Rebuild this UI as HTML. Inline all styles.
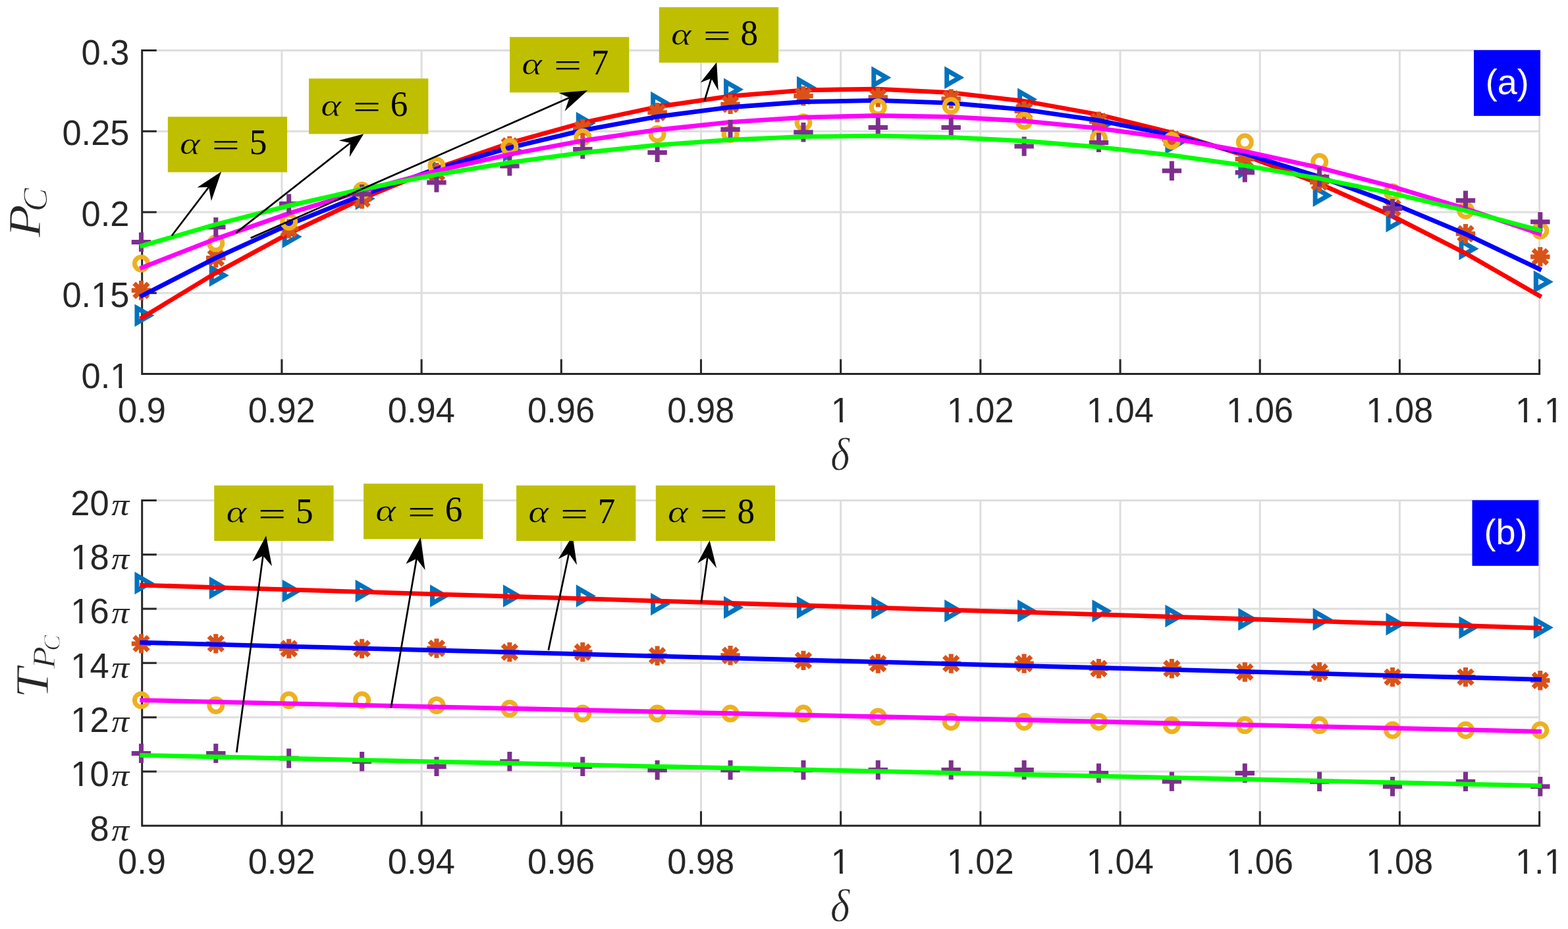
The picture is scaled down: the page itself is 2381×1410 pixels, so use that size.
<!DOCTYPE html>
<html lang="en"><head><meta charset="utf-8"><title>Figure</title>
<style>html,body{margin:0;padding:0;background:#fff}svg{display:block}.t{font-family:"Liberation Sans",Arial,Helvetica,sans-serif;fill:#262626}.mi{font-family:"Liberation Serif","DejaVu Serif",serif;font-style:italic}.mr{font-family:"Liberation Serif","DejaVu Serif",serif}</style></head><body>
<svg width="2381" height="1410" viewBox="0 0 2381 1410">
<rect width="2381" height="1410" fill="#fff"/>
<path d="M427.89 74.9V567.4M640.08 74.9V567.4M852.27 74.9V567.4M1064.46 74.9V567.4M1276.65 74.9V567.4M1488.84 74.9V567.4M1701.03 74.9V567.4M1913.22 74.9V567.4M2125.41 74.9V567.4M2337.6 74.9V567.4M215.7 76.4H2339.1M215.7 199.15H2339.1M215.7 321.9H2339.1M215.7 444.65H2339.1" stroke="#dedede" stroke-width="3" fill="none"/>
<path d="M215.7 74.9V567.4H2339.1M427.89 567.4v-22.1M640.08 567.4v-22.1M852.27 567.4v-22.1M1064.46 567.4v-22.1M1276.65 567.4v-22.1M1488.84 567.4v-22.1M1701.03 567.4v-22.1M1913.22 567.4v-22.1M2125.41 567.4v-22.1M2337.6 567.4v-22.1M215.7 76.4h22.1M215.7 199.15h22.1M215.7 321.9h22.1M215.7 444.65h22.1" stroke="#262626" stroke-width="3" fill="none" stroke-linejoin="miter"/>
<g fill="none" stroke="#0072bd" stroke-width="7" stroke-linejoin="miter"><polygon points="207.95,467.6 227.45,478.8 207.95,490"/><polygon points="321.28,406.9 340.78,418.1 321.28,429.3"/><polygon points="432.2,348.1 451.7,359.3 432.2,370.5"/><polygon points="543.12,290.2 562.62,301.4 543.12,312.6"/><polygon points="656.45,247.8 675.95,259 656.45,270.2"/><polygon points="767.37,217.3 786.87,228.5 767.37,239.7"/><polygon points="878.29,175.8 897.79,187 878.29,198.2"/><polygon points="991.62,144.8 1011.12,156 991.62,167.2"/><polygon points="1102.54,124.5 1122.04,135.7 1102.54,146.9"/><polygon points="1213.46,121.6 1232.96,132.8 1213.46,144"/><polygon points="1326.79,106.6 1346.29,117.8 1326.79,129"/><polygon points="1437.71,106.6 1457.21,117.8 1437.71,129"/><polygon points="1548.63,139.5 1568.13,150.7 1548.63,161.9"/><polygon points="1661.96,178 1681.46,189.2 1661.96,200.4"/><polygon points="1772.88,205.9 1792.38,217.1 1772.88,228.3"/><polygon points="1883.8,243 1903.3,254.2 1883.8,265.4"/><polygon points="1997.13,285.6 2016.63,296.8 1997.13,308"/><polygon points="2108.05,324.4 2127.55,335.6 2108.05,346.8"/><polygon points="2218.97,366.2 2238.47,377.4 2218.97,388.6"/><polygon points="2332.31,416.6 2351.81,427.8 2332.31,439"/></g>
<polyline points="215.7,482.1 327.38,414.43 439.06,354.09 550.74,301.08 662.42,255.38 774.09,217.02 885.77,185.97 997.45,162.25 1109.13,145.86 1220.81,136.78 1332.49,135.04 1444.17,140.61 1555.85,153.52 1667.53,173.74 1779.21,201.29 1890.88,236.16 2002.56,278.36 2114.24,327.88 2225.92,384.73 2337.6,448.9" fill="none" stroke="#ff0000" stroke-width="6.8" stroke-linejoin="miter" stroke-linecap="square"/>
<path d="M199.75 440.7h29.4M214.45 426v29.4M203.7 429.95l21.5 21.5M203.7 451.45l21.5 -21.5M313.08 391.5h29.4M327.78 376.8v29.4M317.03 380.75l21.5 21.5M317.03 402.25l21.5 -21.5M424 347.1h29.4M438.7 332.4v29.4M427.95 336.35l21.5 21.5M427.95 357.85l21.5 -21.5M534.92 302.1h29.4M549.62 287.4v29.4M538.87 291.35l21.5 21.5M538.87 312.85l21.5 -21.5M648.25 261.8h29.4M662.95 247.1v29.4M652.2 251.05l21.5 21.5M652.2 272.55l21.5 -21.5M759.17 221.5h29.4M773.87 206.8v29.4M763.12 210.75l21.5 21.5M763.12 232.25l21.5 -21.5M870.09 195.7h29.4M884.79 181v29.4M874.04 184.95l21.5 21.5M874.04 206.45l21.5 -21.5M983.42 170.7h29.4M998.12 156v29.4M987.37 159.95l21.5 21.5M987.37 181.45l21.5 -21.5M1094.34 158.2h29.4M1109.04 143.5v29.4M1098.29 147.45l21.5 21.5M1098.29 168.95l21.5 -21.5M1205.26 145.7h29.4M1219.96 131v29.4M1209.21 134.95l21.5 21.5M1209.21 156.45l21.5 -21.5M1318.59 147.8h29.4M1333.29 133.1v29.4M1322.55 137.05l21.5 21.5M1322.55 158.55l21.5 -21.5M1429.51 150h29.4M1444.21 135.3v29.4M1433.47 139.25l21.5 21.5M1433.47 160.75l21.5 -21.5M1540.43 168.5h29.4M1555.13 153.8v29.4M1544.38 157.75l21.5 21.5M1544.38 179.25l21.5 -21.5M1653.76 184.2h29.4M1668.46 169.5v29.4M1657.72 173.45l21.5 21.5M1657.72 194.95l21.5 -21.5M1764.68 211.4h29.4M1779.38 196.7v29.4M1768.64 200.65l21.5 21.5M1768.64 222.15l21.5 -21.5M1875.6 241.4h29.4M1890.3 226.7v29.4M1879.56 230.65l21.5 21.5M1879.56 252.15l21.5 -21.5M1988.93 276.4h29.4M2003.63 261.7v29.4M1992.89 265.65l21.5 21.5M1992.89 287.15l21.5 -21.5M2099.85 315.7h29.4M2114.55 301v29.4M2103.81 304.95l21.5 21.5M2103.81 326.45l21.5 -21.5M2210.77 354.7h29.4M2225.47 340v29.4M2214.73 343.95l21.5 21.5M2214.73 365.45l21.5 -21.5M2324.11 389.8h29.4M2338.81 375.1v29.4M2328.06 379.05l21.5 21.5M2328.06 400.55l21.5 -21.5" fill="none" stroke="#d95319" stroke-width="7"/>
<polyline points="215.7,448.77 327.38,391.62 439.06,340.58 550.74,295.66 662.42,256.85 774.09,224.15 885.77,197.57 997.45,177.1 1109.13,162.75 1220.81,154.51 1332.49,152.38 1444.17,156.37 1555.85,166.47 1667.53,182.69 1779.21,205.02 1890.88,233.46 2002.56,268.02 2114.24,308.69 2225.92,355.48 2337.6,408.38" fill="none" stroke="#0000ff" stroke-width="6.8" stroke-linejoin="miter" stroke-linecap="square"/>
<g fill="none" stroke="#edb120" stroke-width="7" stroke-linejoin="miter"><circle cx="214.45" cy="400" r="10"/><circle cx="327.78" cy="369.3" r="10"/><circle cx="438.7" cy="336.4" r="10"/><circle cx="549.62" cy="289.2" r="10"/><circle cx="662.95" cy="251.4" r="10"/><circle cx="773.87" cy="223" r="10"/><circle cx="884.79" cy="208.3" r="10"/><circle cx="998.12" cy="203.5" r="10"/><circle cx="1109.04" cy="203.5" r="10"/><circle cx="1219.96" cy="185.7" r="10"/><circle cx="1333.29" cy="162.8" r="10"/><circle cx="1444.21" cy="160.7" r="10"/><circle cx="1555.13" cy="183.5" r="10"/><circle cx="1668.46" cy="210" r="10"/><circle cx="1779.38" cy="213.5" r="10"/><circle cx="1890.3" cy="215.8" r="10"/><circle cx="2003.63" cy="245.8" r="10"/><circle cx="2114.55" cy="291.7" r="10"/><circle cx="2225.47" cy="319.3" r="10"/><circle cx="2338.81" cy="350" r="10"/></g>
<polyline points="215.7,406.08 327.38,362.67 439.06,323.78 550.74,289.42 662.42,259.58 774.09,234.26 885.77,213.46 997.45,197.19 1109.13,185.44 1220.81,178.21 1332.49,175.51 1444.17,177.33 1555.85,183.67 1667.53,194.54 1779.21,209.92 1890.88,229.84 2002.56,254.27 2114.24,283.23 2225.92,316.71 2337.6,354.71" fill="none" stroke="#ff00ff" stroke-width="6.8" stroke-linejoin="miter" stroke-linecap="square"/>
<path d="M199.75 367.4h29.4M214.45 352.7v29.4M313.08 344.7h29.4M327.78 330v29.4M424 309.3h29.4M438.7 294.6v29.4M534.92 294.7h29.4M549.62 280v29.4M648.25 277.1h29.4M662.95 262.4v29.4M759.17 252h29.4M773.87 237.3v29.4M870.09 226.4h29.4M884.79 211.7v29.4M983.42 231.4h29.4M998.12 216.7v29.4M1094.34 196.4h29.4M1109.04 181.7v29.4M1205.26 200.7h29.4M1219.96 186v29.4M1318.59 193.5h29.4M1333.29 178.8v29.4M1429.51 193.5h29.4M1444.21 178.8v29.4M1540.43 222.1h29.4M1555.13 207.4v29.4M1653.76 216.4h29.4M1668.46 201.7v29.4M1764.68 259.2h29.4M1779.38 244.5v29.4M1875.6 261.7h29.4M1890.3 247v29.4M1988.93 268.5h29.4M2003.63 253.8v29.4M2099.85 316.6h29.4M2114.55 301.9v29.4M2210.77 304.3h29.4M2225.47 289.6v29.4M2324.11 336.8h29.4M2338.81 322.1v29.4" fill="none" stroke="#7e2f8e" stroke-width="7"/>
<polyline points="215.7,372.93 327.38,340.83 439.06,312.16 550.74,286.91 662.42,265.1 774.09,246.71 885.77,231.75 997.45,220.22 1109.13,212.12 1220.81,207.45 1332.49,206.21 1444.17,208.4 1555.85,214.01 1667.53,223.06 1779.21,235.53 1890.88,251.44 2002.56,270.77 2114.24,293.53 2225.92,319.72 2337.6,349.34" fill="none" stroke="#00ff00" stroke-width="6.8" stroke-linejoin="miter" stroke-linecap="square"/>
<text class="t" transform="matrix(0.98 0 0 1 123.62 97.6)" font-size="53.5">0.3</text>
<text class="t" transform="matrix(0.98 0 0 1 94.47 220.35)" font-size="53.5">0.25</text>
<text class="t" transform="matrix(0.98 0 0 1 123.62 343.1)" font-size="53.5">0.2</text>
<text class="t" transform="matrix(0.98 0 0 1 94.47 465.85)" font-size="53.5">0.15</text><path d="M141.34 461.46h9.96v5.35h-9.96zM156.13 461.46h9.44v5.35h-9.44z" fill="#fff"/>
<text class="t" transform="matrix(0.98 0 0 1 123.62 588.6)" font-size="53.5">0.1</text><path d="M170.49 584.21h9.96v5.35h-9.96zM185.28 584.21h9.44v5.35h-9.44z" fill="#fff"/>
<text class="t" transform="matrix(0.98 0 0 1 179.06 640.6)" font-size="53.5">0.9</text>
<text class="t" transform="matrix(0.98 0 0 1 376.68 640.6)" font-size="53.5">0.92</text>
<text class="t" transform="matrix(0.98 0 0 1 588.87 640.6)" font-size="53.5">0.94</text>
<text class="t" transform="matrix(0.98 0 0 1 801.06 640.6)" font-size="53.5">0.96</text>
<text class="t" transform="matrix(0.98 0 0 1 1013.25 640.6)" font-size="53.5">0.98</text>
<text class="t" transform="matrix(0.98 0 0 1 1261.87 640.6)" font-size="53.5">1</text><path d="M1265.02 636.21h9.96v5.35h-9.96zM1279.81 636.21h9.44v5.35h-9.44z" fill="#fff"/>
<text class="t" transform="matrix(0.98 0 0 1 1437.63 640.6)" font-size="53.5">1.02</text><path d="M1440.77 636.21h9.96v5.35h-9.96zM1455.56 636.21h9.44v5.35h-9.44z" fill="#fff"/>
<text class="t" transform="matrix(0.98 0 0 1 1649.82 640.6)" font-size="53.5">1.04</text><path d="M1652.96 636.21h9.96v5.35h-9.96zM1667.75 636.21h9.44v5.35h-9.44z" fill="#fff"/>
<text class="t" transform="matrix(0.98 0 0 1 1862.01 640.6)" font-size="53.5">1.06</text><path d="M1865.15 636.21h9.96v5.35h-9.96zM1879.94 636.21h9.44v5.35h-9.44z" fill="#fff"/>
<text class="t" transform="matrix(0.98 0 0 1 2074.2 640.6)" font-size="53.5">1.08</text><path d="M2077.34 636.21h9.96v5.35h-9.96zM2092.13 636.21h9.44v5.35h-9.44z" fill="#fff"/>
<text class="t" transform="matrix(0.98 0 0 1 2300.96 640.6)" font-size="53.5">1.1</text><path d="M2304.11 636.21h9.96v5.35h-9.96zM2318.89 636.21h9.44v5.35h-9.44z" fill="#fff"/><path d="M2347.83 636.21h9.96v5.35h-9.96zM2362.62 636.21h9.44v5.35h-9.44z" fill="#fff"/>
<text class="mi" transform="matrix(0.6202 0 0 0.7035 1261.24 713.1)" font-size="100" fill="#262626" stroke="#fff" stroke-width="0.8" vector-effect="non-scaling-stroke" stroke-linejoin="round">δ</text>
<text class="mi" transform="matrix(0 -0.8203 0.7053 0 60.9 360.49)" font-size="100" fill="#262626" stroke="#fff" stroke-width="1" vector-effect="non-scaling-stroke" stroke-linejoin="round">P</text>
<text class="mi" transform="matrix(0 -0.5387 0.5224 0 71.48 321.26)" font-size="100" fill="#262626" stroke="#fff" stroke-width="1" vector-effect="non-scaling-stroke" stroke-linejoin="round">C</text>
<path d="M427.89 757.9V1253.3M640.08 757.9V1253.3M852.27 757.9V1253.3M1064.46 757.9V1253.3M1276.65 757.9V1253.3M1488.84 757.9V1253.3M1701.03 757.9V1253.3M1913.22 757.9V1253.3M2125.41 757.9V1253.3M2337.6 757.9V1253.3M215.7 759.4H2339.1M215.7 841.72H2339.1M215.7 924.03H2339.1M215.7 1006.35H2339.1M215.7 1088.67H2339.1M215.7 1170.98H2339.1" stroke="#dedede" stroke-width="3" fill="none"/>
<path d="M215.7 757.9V1253.3H2339.1M427.89 1253.3v-22.1M640.08 1253.3v-22.1M852.27 1253.3v-22.1M1064.46 1253.3v-22.1M1276.65 1253.3v-22.1M1488.84 1253.3v-22.1M1701.03 1253.3v-22.1M1913.22 1253.3v-22.1M2125.41 1253.3v-22.1M2337.6 1253.3v-22.1M215.7 759.4h22.1M215.7 841.72h22.1M215.7 924.03h22.1M215.7 1006.35h22.1M215.7 1088.67h22.1M215.7 1170.98h22.1" stroke="#262626" stroke-width="3" fill="none" stroke-linejoin="miter"/>
<g fill="none" stroke="#0072bd" stroke-width="7" stroke-linejoin="miter"><polygon points="207.95,873.8 227.45,885 207.95,896.2"/><polygon points="321.28,881 340.78,892.2 321.28,903.4"/><polygon points="432.2,885.8 451.7,897 432.2,908.2"/><polygon points="543.12,885.8 562.62,897 543.12,908.2"/><polygon points="656.45,893.4 675.95,904.6 656.45,915.8"/><polygon points="767.37,893.4 786.87,904.6 767.37,915.8"/><polygon points="878.29,893.4 897.79,904.6 878.29,915.8"/><polygon points="991.62,905.8 1011.12,917 991.62,928.2"/><polygon points="1102.54,910.8 1122.04,922 1102.54,933.2"/><polygon points="1213.46,910.8 1232.96,922 1213.46,933.2"/><polygon points="1326.79,911.3 1346.29,922.5 1326.79,933.7"/><polygon points="1437.71,916 1457.21,927.2 1437.71,938.4"/><polygon points="1548.63,916 1568.13,927.2 1548.63,938.4"/><polygon points="1661.96,916 1681.46,927.2 1661.96,938.4"/><polygon points="1772.88,923.7 1792.38,934.9 1772.88,946.1"/><polygon points="1883.8,928.9 1903.3,940.1 1883.8,951.3"/><polygon points="1997.13,928.9 2016.63,940.1 1997.13,951.3"/><polygon points="2108.05,936.1 2127.55,947.3 2108.05,958.5"/><polygon points="2218.97,941.3 2238.47,952.5 2218.97,963.7"/><polygon points="2332.31,941.3 2351.81,952.5 2332.31,963.7"/></g>
<polyline points="215.7,888.1 327.38,891.53 439.06,894.95 550.74,898.38 662.42,901.81 774.09,905.23 885.77,908.66 997.45,912.08 1109.13,915.51 1220.81,918.94 1332.49,922.36 1444.17,925.79 1555.85,929.22 1667.53,932.64 1779.21,936.07 1890.88,939.49 2002.56,942.92 2114.24,946.35 2225.92,949.77 2337.6,953.2" fill="none" stroke="#ff0000" stroke-width="6.8" stroke-linejoin="miter" stroke-linecap="square"/>
<path d="M199.75 976.9h29.4M214.45 962.2v29.4M203.7 966.15l21.5 21.5M203.7 987.65l21.5 -21.5M313.08 976.9h29.4M327.78 962.2v29.4M317.03 966.15l21.5 21.5M317.03 987.65l21.5 -21.5M424 984.5h29.4M438.7 969.8v29.4M427.95 973.75l21.5 21.5M427.95 995.25l21.5 -21.5M534.92 984.5h29.4M549.62 969.8v29.4M538.87 973.75l21.5 21.5M538.87 995.25l21.5 -21.5M648.25 984h29.4M662.95 969.3v29.4M652.2 973.25l21.5 21.5M652.2 994.75l21.5 -21.5M759.17 989.8h29.4M773.87 975.1v29.4M763.12 979.05l21.5 21.5M763.12 1000.55l21.5 -21.5M870.09 989.8h29.4M884.79 975.1v29.4M874.04 979.05l21.5 21.5M874.04 1000.55l21.5 -21.5M983.42 995.2h29.4M998.12 980.5v29.4M987.37 984.45l21.5 21.5M987.37 1005.95l21.5 -21.5M1094.34 994.8h29.4M1109.04 980.1v29.4M1098.29 984.05l21.5 21.5M1098.29 1005.55l21.5 -21.5M1205.26 1002.4h29.4M1219.96 987.7v29.4M1209.21 991.65l21.5 21.5M1209.21 1013.15l21.5 -21.5M1318.59 1007.1h29.4M1333.29 992.4v29.4M1322.55 996.35l21.5 21.5M1322.55 1017.85l21.5 -21.5M1429.51 1007.1h29.4M1444.21 992.4v29.4M1433.47 996.35l21.5 21.5M1433.47 1017.85l21.5 -21.5M1540.43 1007.1h29.4M1555.13 992.4v29.4M1544.38 996.35l21.5 21.5M1544.38 1017.85l21.5 -21.5M1653.76 1014.8h29.4M1668.46 1000.1v29.4M1657.72 1004.05l21.5 21.5M1657.72 1025.55l21.5 -21.5M1764.68 1014.8h29.4M1779.38 1000.1v29.4M1768.64 1004.05l21.5 21.5M1768.64 1025.55l21.5 -21.5M1875.6 1020h29.4M1890.3 1005.3v29.4M1879.56 1009.25l21.5 21.5M1879.56 1030.75l21.5 -21.5M1988.93 1020h29.4M2003.63 1005.3v29.4M1992.89 1009.25l21.5 21.5M1992.89 1030.75l21.5 -21.5M2099.85 1027.6h29.4M2114.55 1012.9v29.4M2103.81 1016.85l21.5 21.5M2103.81 1038.35l21.5 -21.5M2210.77 1027.6h29.4M2225.47 1012.9v29.4M2214.73 1016.85l21.5 21.5M2214.73 1038.35l21.5 -21.5M2324.11 1032.7h29.4M2338.81 1018v29.4M2328.06 1021.95l21.5 21.5M2328.06 1043.45l21.5 -21.5" fill="none" stroke="#d95319" stroke-width="7"/>
<polyline points="215.7,975.2 327.38,978.15 439.06,981.09 550.74,984.04 662.42,986.99 774.09,989.94 885.77,992.88 997.45,995.83 1109.13,998.78 1220.81,1001.73 1332.49,1004.67 1444.17,1007.62 1555.85,1010.57 1667.53,1013.52 1779.21,1016.46 1890.88,1019.41 2002.56,1022.36 2114.24,1025.31 2225.92,1028.25 2337.6,1031.2" fill="none" stroke="#0000ff" stroke-width="6.8" stroke-linejoin="miter" stroke-linecap="square"/>
<g fill="none" stroke="#edb120" stroke-width="7" stroke-linejoin="miter"><circle cx="214.45" cy="1062.8" r="10"/><circle cx="327.78" cy="1070.4" r="10"/><circle cx="438.7" cy="1062.8" r="10"/><circle cx="549.62" cy="1062.8" r="10"/><circle cx="662.95" cy="1070.4" r="10"/><circle cx="773.87" cy="1075.6" r="10"/><circle cx="884.79" cy="1083" r="10"/><circle cx="998.12" cy="1083" r="10"/><circle cx="1109.04" cy="1083" r="10"/><circle cx="1219.96" cy="1083" r="10"/><circle cx="1333.29" cy="1088" r="10"/><circle cx="1444.21" cy="1095.4" r="10"/><circle cx="1555.13" cy="1095.4" r="10"/><circle cx="1668.46" cy="1095.4" r="10"/><circle cx="1779.38" cy="1100.7" r="10"/><circle cx="1890.3" cy="1100.6" r="10"/><circle cx="2003.63" cy="1100.6" r="10"/><circle cx="2114.55" cy="1108.3" r="10"/><circle cx="2225.47" cy="1108.3" r="10"/><circle cx="2338.81" cy="1108.3" r="10"/></g>
<polyline points="215.7,1062.8 327.38,1065.29 439.06,1067.79 550.74,1070.28 662.42,1072.78 774.09,1075.27 885.77,1077.77 997.45,1080.26 1109.13,1082.76 1220.81,1085.25 1332.49,1087.75 1444.17,1090.24 1555.85,1092.74 1667.53,1095.23 1779.21,1097.73 1890.88,1100.22 2002.56,1102.72 2114.24,1105.21 2225.92,1107.71 2337.6,1110.2" fill="none" stroke="#ff00ff" stroke-width="6.8" stroke-linejoin="miter" stroke-linecap="square"/>
<path d="M199.75 1143.4h29.4M214.45 1128.7v29.4M313.08 1143.4h29.4M327.78 1128.7v29.4M424 1151h29.4M438.7 1136.3v29.4M534.92 1155.8h29.4M549.62 1141.1v29.4M648.25 1163.4h29.4M662.95 1148.7v29.4M759.17 1155.8h29.4M773.87 1141.1v29.4M870.09 1163.4h29.4M884.79 1148.7v29.4M983.42 1168.7h29.4M998.12 1154v29.4M1094.34 1168.7h29.4M1109.04 1154v29.4M1205.26 1168.7h29.4M1219.96 1154v29.4M1318.59 1168.6h29.4M1333.29 1153.9v29.4M1429.51 1168.6h29.4M1444.21 1153.9v29.4M1540.43 1168.6h29.4M1555.13 1153.9v29.4M1653.76 1173.4h29.4M1668.46 1158.7v29.4M1764.68 1186.1h29.4M1779.38 1171.4v29.4M1875.6 1173.4h29.4M1890.3 1158.7v29.4M1988.93 1186.3h29.4M2003.63 1171.6v29.4M2099.85 1193.7h29.4M2114.55 1179v29.4M2210.77 1186.3h29.4M2225.47 1171.6v29.4M2324.11 1193.7h29.4M2338.81 1179v29.4" fill="none" stroke="#7e2f8e" stroke-width="7"/>
<polyline points="215.7,1146.3 327.38,1148.73 439.06,1151.16 550.74,1153.59 662.42,1156.03 774.09,1158.46 885.77,1160.89 997.45,1163.32 1109.13,1165.75 1220.81,1168.18 1332.49,1170.62 1444.17,1173.05 1555.85,1175.48 1667.53,1177.91 1779.21,1180.34 1890.88,1182.77 2002.56,1185.21 2114.24,1187.64 2225.92,1190.07 2337.6,1192.5" fill="none" stroke="#00ff00" stroke-width="6.8" stroke-linejoin="miter" stroke-linecap="square"/>
<text class="t" transform="matrix(0.98 0 0 1 107.3 781.7)" font-size="53.5">20</text>
<text class="mi" transform="matrix(0.5385 0 0 0.486 169.33 781.71)" font-size="100" fill="#262626">π</text>
<text class="t" transform="matrix(0.98 0 0 1 107.3 864.02)" font-size="53.5">18</text><path d="M110.44 859.63h9.96v5.35h-9.96zM125.23 859.63h9.44v5.35h-9.44z" fill="#fff"/>
<text class="mi" transform="matrix(0.5385 0 0 0.486 169.33 864.03)" font-size="100" fill="#262626">π</text>
<text class="t" transform="matrix(0.98 0 0 1 107.3 946.33)" font-size="53.5">16</text><path d="M110.44 941.95h9.96v5.35h-9.96zM125.23 941.95h9.44v5.35h-9.44z" fill="#fff"/>
<text class="mi" transform="matrix(0.5385 0 0 0.486 169.33 946.35)" font-size="100" fill="#262626">π</text>
<text class="t" transform="matrix(0.98 0 0 1 107.3 1028.65)" font-size="53.5">14</text><path d="M110.44 1024.26h9.96v5.35h-9.96zM125.23 1024.26h9.44v5.35h-9.44z" fill="#fff"/>
<text class="mi" transform="matrix(0.5385 0 0 0.486 169.33 1028.66)" font-size="100" fill="#262626">π</text>
<text class="t" transform="matrix(0.98 0 0 1 107.3 1110.97)" font-size="53.5">12</text><path d="M110.44 1106.58h9.96v5.35h-9.96zM125.23 1106.58h9.44v5.35h-9.44z" fill="#fff"/>
<text class="mi" transform="matrix(0.5385 0 0 0.486 169.33 1110.98)" font-size="100" fill="#262626">π</text>
<text class="t" transform="matrix(0.98 0 0 1 107.3 1193.28)" font-size="53.5">10</text><path d="M110.44 1188.9h9.96v5.35h-9.96zM125.23 1188.9h9.44v5.35h-9.44z" fill="#fff"/>
<text class="mi" transform="matrix(0.5385 0 0 0.486 169.33 1193.3)" font-size="100" fill="#262626">π</text>
<text class="t" transform="matrix(0.98 0 0 1 136.45 1275.6)" font-size="53.5">8</text>
<text class="mi" transform="matrix(0.5385 0 0 0.486 169.33 1275.61)" font-size="100" fill="#262626">π</text>
<text class="t" transform="matrix(0.98 0 0 1 179.06 1325.8)" font-size="53.5">0.9</text>
<text class="t" transform="matrix(0.98 0 0 1 376.68 1325.8)" font-size="53.5">0.92</text>
<text class="t" transform="matrix(0.98 0 0 1 588.87 1325.8)" font-size="53.5">0.94</text>
<text class="t" transform="matrix(0.98 0 0 1 801.06 1325.8)" font-size="53.5">0.96</text>
<text class="t" transform="matrix(0.98 0 0 1 1013.25 1325.8)" font-size="53.5">0.98</text>
<text class="t" transform="matrix(0.98 0 0 1 1261.87 1325.8)" font-size="53.5">1</text><path d="M1265.02 1321.41h9.96v5.35h-9.96zM1279.81 1321.41h9.44v5.35h-9.44z" fill="#fff"/>
<text class="t" transform="matrix(0.98 0 0 1 1437.63 1325.8)" font-size="53.5">1.02</text><path d="M1440.77 1321.41h9.96v5.35h-9.96zM1455.56 1321.41h9.44v5.35h-9.44z" fill="#fff"/>
<text class="t" transform="matrix(0.98 0 0 1 1649.82 1325.8)" font-size="53.5">1.04</text><path d="M1652.96 1321.41h9.96v5.35h-9.96zM1667.75 1321.41h9.44v5.35h-9.44z" fill="#fff"/>
<text class="t" transform="matrix(0.98 0 0 1 1862.01 1325.8)" font-size="53.5">1.06</text><path d="M1865.15 1321.41h9.96v5.35h-9.96zM1879.94 1321.41h9.44v5.35h-9.44z" fill="#fff"/>
<text class="t" transform="matrix(0.98 0 0 1 2074.2 1325.8)" font-size="53.5">1.08</text><path d="M2077.34 1321.41h9.96v5.35h-9.96zM2092.13 1321.41h9.44v5.35h-9.44z" fill="#fff"/>
<text class="t" transform="matrix(0.98 0 0 1 2300.96 1325.8)" font-size="53.5">1.1</text><path d="M2304.11 1321.41h9.96v5.35h-9.96zM2318.89 1321.41h9.44v5.35h-9.44z" fill="#fff"/><path d="M2347.83 1321.41h9.96v5.35h-9.96zM2362.62 1321.41h9.44v5.35h-9.44z" fill="#fff"/>
<text class="mi" transform="matrix(0.6292 0 0 0.6965 1260.91 1398.2)" font-size="100" fill="#262626" stroke="#fff" stroke-width="0.8" vector-effect="non-scaling-stroke" stroke-linejoin="round">δ</text>
<text class="mi" transform="matrix(0 -0.8309 0.7108 0 73.1 1060.1)" font-size="100" fill="#262626" stroke="#fff" stroke-width="1" vector-effect="non-scaling-stroke" stroke-linejoin="round">T</text>
<text class="mi" transform="matrix(0 -0.5576 0.4947 0 82.7 1015.02)" font-size="100" fill="#262626" stroke="#fff" stroke-width="1" vector-effect="non-scaling-stroke" stroke-linejoin="round">P</text>
<text class="mi" transform="matrix(0 -0.3677 0.3567 0 90.84 988.12)" font-size="100" fill="#262626" stroke="#fff" stroke-width="1" vector-effect="non-scaling-stroke" stroke-linejoin="round">C</text>
<path d="M832.8 986.9L863.8 840.3" stroke="#000" stroke-width="2.7" fill="none"/><path d="M869.5 812.7L847.7 848.4L863.8 840.3L876 857.4z" fill="#000"/>
<rect x="254.85" y="177.2" width="181.3" height="84.2" fill="#bfbf00"/><text class="mi" transform="matrix(0.5882 0 0 0.4896 272.99 233.81)" font-size="100" fill="#000" stroke="#bfbf00" stroke-width="0.6" vector-effect="non-scaling-stroke" stroke-linejoin="round">α</text><text class="mr" transform="matrix(0.7484 0 0 0.5 321.71 237.45)" font-size="100" fill="#000">=</text><text class="mr" transform="matrix(1 0 0 1.013 378.65 234.1)" font-size="53.2" fill="#000">5</text>
<rect x="469.07" y="119.18" width="181.3" height="84.2" fill="#bfbf00"/><text class="mi" transform="matrix(0.5882 0 0 0.4896 487.21 175.79)" font-size="100" fill="#000" stroke="#bfbf00" stroke-width="0.6" vector-effect="non-scaling-stroke" stroke-linejoin="round">α</text><text class="mr" transform="matrix(0.7484 0 0 0.5 535.93 179.43)" font-size="100" fill="#000">=</text><text class="mr" transform="matrix(1 0 0 1.013 592.87 176.08)" font-size="53.2" fill="#000">6</text>
<rect x="774.07" y="56.18" width="181.3" height="84.2" fill="#bfbf00"/><text class="mi" transform="matrix(0.5882 0 0 0.4896 792.21 112.79)" font-size="100" fill="#000" stroke="#bfbf00" stroke-width="0.6" vector-effect="non-scaling-stroke" stroke-linejoin="round">α</text><text class="mr" transform="matrix(0.7484 0 0 0.5 840.93 116.43)" font-size="100" fill="#000">=</text><text class="mr" transform="matrix(1 0 0 1.013 897.87 113.08)" font-size="53.2" fill="#000">7</text>
<rect x="1000.82" y="10.92" width="181.3" height="84.2" fill="#bfbf00"/><text class="mi" transform="matrix(0.5882 0 0 0.4896 1018.96 67.53)" font-size="100" fill="#000" stroke="#bfbf00" stroke-width="0.6" vector-effect="non-scaling-stroke" stroke-linejoin="round">α</text><text class="mr" transform="matrix(0.7484 0 0 0.5 1067.68 71.17)" font-size="100" fill="#000">=</text><text class="mr" transform="matrix(1 0 0 1.013 1124.62 67.82)" font-size="53.2" fill="#000">8</text>
<rect x="325.24" y="736.77" width="181.3" height="84.2" fill="#bfbf00"/><text class="mi" transform="matrix(0.5882 0 0 0.4896 343.38 793.38)" font-size="100" fill="#000" stroke="#bfbf00" stroke-width="0.6" vector-effect="non-scaling-stroke" stroke-linejoin="round">α</text><text class="mr" transform="matrix(0.7484 0 0 0.5 392.1 797.02)" font-size="100" fill="#000">=</text><text class="mr" transform="matrix(1 0 0 1.013 449.04 793.67)" font-size="53.2" fill="#000">5</text>
<rect x="552.07" y="734.08" width="181.3" height="84.2" fill="#bfbf00"/><text class="mi" transform="matrix(0.5882 0 0 0.4896 570.21 790.69)" font-size="100" fill="#000" stroke="#bfbf00" stroke-width="0.6" vector-effect="non-scaling-stroke" stroke-linejoin="round">α</text><text class="mr" transform="matrix(0.7484 0 0 0.5 618.93 794.33)" font-size="100" fill="#000">=</text><text class="mr" transform="matrix(1 0 0 1.013 675.87 790.98)" font-size="53.2" fill="#000">6</text>
<rect x="784.07" y="736.77" width="181.3" height="84.2" fill="#bfbf00"/><text class="mi" transform="matrix(0.5882 0 0 0.4896 802.21 793.38)" font-size="100" fill="#000" stroke="#bfbf00" stroke-width="0.6" vector-effect="non-scaling-stroke" stroke-linejoin="round">α</text><text class="mr" transform="matrix(0.7484 0 0 0.5 850.93 797.02)" font-size="100" fill="#000">=</text><text class="mr" transform="matrix(1 0 0 1.013 907.87 793.67)" font-size="53.2" fill="#000">7</text>
<rect x="995.82" y="736.77" width="181.3" height="84.2" fill="#bfbf00"/><text class="mi" transform="matrix(0.5882 0 0 0.4896 1013.96 793.38)" font-size="100" fill="#000" stroke="#bfbf00" stroke-width="0.6" vector-effect="non-scaling-stroke" stroke-linejoin="round">α</text><text class="mr" transform="matrix(0.7484 0 0 0.5 1062.68 797.02)" font-size="100" fill="#000">=</text><text class="mr" transform="matrix(1 0 0 1.013 1119.62 793.67)" font-size="53.2" fill="#000">8</text>
<path d="M260.85 357.7L317 284" stroke="#000" stroke-width="2.7" fill="none"/><path d="M336.1 260.6L299.5 284.5L317 284L320.9 305z" fill="#000"/>
<path d="M358.4 353.4L532 217" stroke="#000" stroke-width="2.7" fill="none"/><path d="M552.3 203.15L514.45 213.2L532 217L530.8 238.25z" fill="#000"/>
<path d="M380.6 361.3L864.7 148.3" stroke="#000" stroke-width="2.7" fill="none"/><path d="M892.4 137.2L848.4 141L864.7 148.3L857.6 168.8z" fill="#000"/>
<path d="M1069.9 152.75L1080.1 118.9" stroke="#000" stroke-width="2.7" fill="none"/><path d="M1088.2 94.5L1063.7 125.3L1080.1 118.9L1090.8 137.4z" fill="#000"/>
<path d="M359.3 1142L399.4 843.4" stroke="#000" stroke-width="2.7" fill="none"/><path d="M404.1 812.9L383.2 851.9L399.4 843.4L412.9 859.2z" fill="#000"/>
<path d="M593.7 1074.2L632.55 848.1" stroke="#000" stroke-width="2.7" fill="none"/><path d="M638.6 815.5L616.4 855.7L632.55 848.1L645.6 865.2z" fill="#000"/>
<path d="M1064.7 915.2L1074.4 845.6" stroke="#000" stroke-width="2.7" fill="none"/><path d="M1077.6 820.2L1059.2 854.8L1074.4 845.6L1088.1 862.2z" fill="#000"/>
<rect x="2238" y="76.1" width="101" height="99.8" fill="#0000ff"/>
<text class="t" x="2288.7" y="143.1" font-size="54" text-anchor="middle" style="fill:#fff">(a)</text>
<rect x="2235.5" y="759.2" width="100.8" height="99.6" fill="#0000ff"/>
<text class="t" x="2286.5" y="826.2" font-size="54" text-anchor="middle" style="fill:#fff">(b)</text>
</svg></body></html>
